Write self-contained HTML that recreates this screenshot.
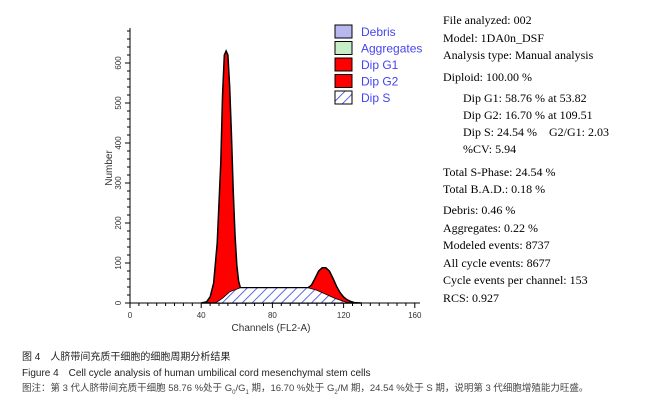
<!DOCTYPE html>
<html><head><meta charset="utf-8"><style>
body{margin:0;background:#fff;width:670px;height:410px;overflow:hidden;position:relative;font-family:"Liberation Sans",sans-serif}
.st{position:absolute;font-family:"Liberation Serif",serif;font-size:12px;color:#000;white-space:nowrap}
.cap{position:absolute;left:22px;font-size:9.5px;color:#222;white-space:nowrap;font-family:"Liberation Sans","Noto Sans CJK SC",sans-serif}
</style></head><body>
<svg width="670" height="410" style="position:absolute;left:0;top:0">
<defs><pattern id="hatch" width="7" height="7" patternUnits="userSpaceOnUse" patternTransform="rotate(45)"><rect width="7" height="7" fill="#fff"/><line x1="0" y1="0" x2="0" y2="7" stroke="#3344dd" stroke-width="1.6"/></pattern></defs>
<g id="plot"></g>
</svg>
<div class="st" style="left:443px;top:13px">File analyzed: 002</div>
<div class="st" style="left:443px;top:31px">Model: 1DA0n_DSF</div>
<div class="st" style="left:443px;top:48px">Analysis type: Manual analysis</div>
<div class="st" style="left:443px;top:70px">Diploid: 100.00 %</div>
<div class="st" style="left:463px;top:91px">Dip G1: 58.76 % at 53.82</div>
<div class="st" style="left:463px;top:108px">Dip G2: 16.70 % at 109.51</div>
<div class="st" style="left:463px;top:125px">Dip S: 24.54 % &nbsp;&nbsp;&nbsp;G2/G1: 2.03</div>
<div class="st" style="left:463px;top:142px">%CV: 5.94</div>
<div class="st" style="left:443px;top:165px">Total S-Phase: 24.54 %</div>
<div class="st" style="left:443px;top:182px">Total B.A.D.: 0.18 %</div>
<div class="st" style="left:443px;top:203px">Debris: 0.46 %</div>
<div class="st" style="left:443px;top:221px">Aggregates: 0.22 %</div>
<div class="st" style="left:443px;top:238px">Modeled events: 8737</div>
<div class="st" style="left:443px;top:256px">All cycle events: 8677</div>
<div class="st" style="left:443px;top:273px">Cycle events per channel: 153</div>
<div class="st" style="left:443px;top:291px">RCS: 0.927</div>
<div class="cap" style="top:348px;font-size:10px">图 4　人脐带间充质干细胞的细胞周期分析结果</div>
<div class="cap" style="top:364px;font-size:10px">Figure 4　Cell cycle analysis of human umbilical cord mesenchymal stem cells</div>
<div class="cap" style="top:380px;color:#444">图注：第 3 代人脐带间充质干细胞 58.76 %处于 G<sub style="font-size:6px">0</sub>/G<sub style="font-size:6px">1</sub> 期，16.70 %处于 G<sub style="font-size:6px">2</sub>/M 期，24.54 %处于 S 期，说明第 3 代细胞增殖能力旺盛。</div>
<script>
const channels=[40,43,45,47,49,51,52,53,54,55,56,57,58,59,60,61,62,70,80,90,100,102,104,106,108,110,112,114,116,118,120,122,124,126,130];
const totalCounts=[0,3,15,50,150,350,520,620,630,620,540,420,280,170,95,55,38,38,38,38,38,45,62,80,88,88,80,62,42,26,15,8,4,1,0];
const sChannels=[48,52,56,62,70,80,90,100,105,110,115,120,123];
const sCounts=[0,12,28,38,38,38,38,38,32,22,12,4,0];
const xTicks=[0,40,80,120,160];
const yTicks=[0,100,200,300,400,500,600];
const NS="http://www.w3.org/2000/svg";
const g=document.getElementById('plot');
const X=c=>130+c*1.78, Y=v=>303-v*0.4;
function mk(t,a,name){const e=document.createElementNS(NS,t);for(const k in a)e.setAttribute(k,a[k]);


g.appendChild(e);return e;}
let d='M'+X(channels[0])+','+Y(0);channels.forEach((c,i)=>d+=' L'+X(c)+','+Y(totalCounts[i]));d+=' L'+X(channels[channels.length-1])+','+Y(0)+'Z';
mk('path',{d:d,fill:'#ff0000',stroke:'#000','stroke-width':1.5},'cell-cycle-histogram');
let s='M'+X(sChannels[0])+','+Y(0);sChannels.forEach((c,i)=>s+=' L'+X(c)+','+Y(sCounts[i]));s+='Z';
mk('path',{d:s,fill:'url(#hatch)',stroke:'#000','stroke-width':0.8},'dip-s-area');
mk('line',{x1:130,y1:303,x2:420,y2:303,stroke:'#000'},'x-axis');
mk('line',{x1:130,y1:28,x2:130,y2:303,stroke:'#000'},'y-axis');
for(let c=0;c<=160;c+=5)mk('line',{x1:X(c),y1:303,x2:X(c),y2:c%40?306:308,stroke:'#000'},'x-tick');
xTicks.forEach(t=>{const e=mk('text',{x:X(t),y:318,'font-size':8,fill:'#333','text-anchor':'middle'},'x-tick-label');e.textContent=t;});
for(let v=0;v<=680;v+=20)mk('line',{x1:130,y1:Y(v),x2:v%100?127:125,y2:Y(v),stroke:'#000'},'y-tick');
yTicks.forEach(t=>{const e=mk('text',{x:0,y:0,'font-size':8,fill:'#333','text-anchor':'middle',transform:`translate(121,${Y(t)}) rotate(-90)`},'y-tick-label');e.textContent=t;});
let e=mk('text',{x:271,y:331,'font-size':10,fill:'#333','text-anchor':'middle'},'x-axis-title');e.textContent='Channels (FL2-A)';
e=mk('text',{x:0,y:0,'font-size':10,fill:'#333','text-anchor':'middle',transform:'translate(112,168) rotate(-90)'},'y-axis-title');e.textContent='Number';
const legNames=['Debris','Aggregates','Dip G1','Dip G2','Dip S'];
const legFills=['#b8b8ee','#c8eec8','#ff0000','#ff0000','url(#hatch)'];
legNames.forEach((n,i)=>{const y=25+i*16.5;
mk('rect',{x:335,y:y,width:17,height:13,fill:legFills[i],stroke:'#000','stroke-width':1},'legend-swatch');
const t=mk('text',{x:361,y:y+11,'font-size':12,fill:'#4444ee'},'legend-entry');t.textContent=n;});
</script>
</body></html>
